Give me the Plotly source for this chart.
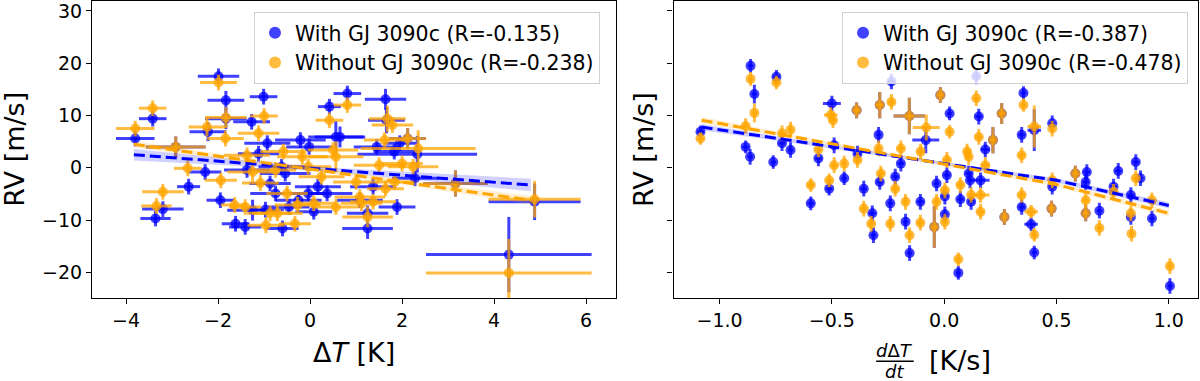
import plotly.graph_objects as go

# ---------------- Left panel: RV vs Delta T ----------------
dT_with = [-3.80, -3.42, -3.36, -3.20, -2.92, -2.64, -2.28, -2.22, -1.99, -1.95, -1.83, -1.83, -1.62, -1.41,
           -1.27, -1.37, -1.25, -1.12, -1.01, -0.97, -0.93, -0.87, -0.75, -0.62, -0.60, -0.54, -0.46, -0.25,
           -0.21, -0.02, -0.04, 0.08, 0.17, 0.37, 0.42, 0.56, 0.65, 0.81, 1.08, 1.25, 1.25, 1.37, 1.45, 1.64,
           1.66, 1.83, 1.89, 1.95, 2.12, 2.33, 2.28, 3.16, 4.88, 4.32]
rv_with_L = [5.6, 9.4, -9.7, -7.9, 4.0, -3.6, -0.8, 6.9, 17.5, -6.2, 12.9, 9.4, -10.7, -11.3,
             8.8, -0.4, -8.1, 2.7, 13.6, -8.0, 4.7, -3.0, -4.9, 0.2, -11.6, -1.1, -7.5, -6.2,
             5.3, 4.0, -4.9, -8.4, -3.6, -4.9, 11.7, 5.9, 5.9, 14.2, -6.2, -11.6, -8.7, -3.6, 4.0, 13.1,
             9.1, 3.1, -7.5, 4.7, 5.6, 2.6, -2.0, -3.0, -6.5, -16.6]
dTerr_with = [0.42, 0.30, 0.33, 0.45, 0.65, 0.25, 0.35, 0.40, 0.45, 0.30, 0.40, 0.45, 0.30, 0.35,
              0.40, 0.50, 0.55, 0.45, 0.30, 0.40, 0.50, 0.45, 0.55, 0.50, 0.35, 0.55, 0.45, 0.50,
              0.55, 0.50, 0.45, 0.40, 0.50, 0.55, 0.25, 0.60, 0.55, 0.30, 0.50, 0.55, 0.45, 0.50, 0.50, 0.45,
              0.40, 0.45, 0.40, 0.35, 0.40, 1.30, 0.50, 0.70, 1.00, 1.80]
rverr_with_L = [1.5, 1.5, 1.5, 1.5, 2.0, 1.5, 1.5, 1.8, 1.5, 1.5, 1.8, 2.0, 1.5, 1.5,
                1.5, 1.5, 2.0, 1.5, 1.5, 1.5, 1.5, 1.5, 1.5, 1.5, 1.5, 1.5, 1.5, 1.5,
                1.5, 1.5, 1.5, 1.5, 1.5, 1.5, 1.5, 3.0, 2.0, 1.5, 1.5, 2.0, 1.5, 1.5, 1.5, 2.0,
                2.5, 1.5, 1.5, 1.5, 2.0, 3.5, 1.5, 2.5, 3.5, 7.2]

dT_without = [-3.80, -3.42, -3.20, -3.34, -2.92, -2.66, -2.24, -1.99, -1.94, -1.84, -1.83, -1.64, -1.41,
              -1.37, -1.25, -1.12, -1.08, -1.00, -0.96, -0.87, -0.75, -0.71, -0.58, -0.50, -0.33, -0.27,
              -0.17, -0.04, 0.08, 0.25, 0.42, 0.50, 0.56, 0.56, 0.81, 1.00, 1.08, 1.12, 1.25, 1.37, 1.50,
              1.62, 1.64, 1.68, 1.79, 1.84, 2.00, 2.12, 2.24, 2.35, 3.16, 4.88, 4.32]
rv_without_L = [7.5, 11.4, -4.6, -7.3, 4.0, -0.1, 7.8, 16.3, -2.4, 5.6, 9.6, -7.1, -7.5,
                2.4, -0.8, 6.6, -2.9, 9.9, -11.0, -8.7, -0.4, -8.7, 3.1, -4.9, -10.7, -7.1,
                2.1, 0.2, -6.8, -1.7, 9.1, 3.4, 2.1, -7.5, 12.0, -2.7, -5.6, -6.8, -9.4, -6.5, 0.5,
                5.3, -4.0, 9.4, 8.2, -2.7, 0.8, 5.6, 0.2, 3.7, -3.0, -6.0, -20.1]
dTerr_without = [0.42, 0.30, 0.45, 0.33, 0.65, 0.30, 0.40, 0.40, 0.35, 0.40, 0.45, 0.30, 0.35,
                 0.50, 0.55, 0.45, 0.40, 0.30, 0.40, 0.50, 0.45, 0.55, 0.50, 0.45, 0.35, 0.50,
                 0.55, 0.50, 0.45, 0.50, 0.30, 0.55, 0.60, 0.50, 0.30, 0.50, 0.55, 0.45, 0.55, 0.50, 0.55,
                 0.45, 0.40, 0.40, 0.45, 0.40, 0.45, 0.40, 0.55, 1.25, 0.70, 1.00, 1.80]
rverr_without_L = [1.5, 1.5, 1.5, 1.5, 2.0, 1.5, 1.8, 1.5, 1.5, 1.5, 2.0, 1.5, 1.5,
                   1.5, 2.0, 1.5, 1.5, 1.5, 1.5, 1.5, 1.5, 1.5, 1.5, 1.5, 1.5, 1.5,
                   1.5, 1.5, 1.5, 1.5, 1.5, 1.5, 3.0, 1.5, 1.5, 1.5, 1.5, 1.5, 2.0, 1.5, 1.5,
                   1.5, 1.5, 2.5, 1.5, 1.5, 1.5, 2.0, 1.5, 3.5, 2.5, 3.5, 6.5]

# regression lines and confidence bands
fitL_x = [-3.83, -1.0, 0.5, 2.0, 4.80]
fitL_with = [2.5, 0.6, -0.4, -1.4, -3.3]
fitL_with_lo = [1.4, 0.1, -0.8, -2.1, -4.5]
fitL_with_hi = [3.6, 1.1, 0.0, -0.7, -2.1]
fitL_without = [4.5, 1.0, -0.8, -2.7, -6.2]
fitL_without_lo = [3.9, 0.6, -1.2, -3.2, -7.0]
fitL_without_hi = [5.1, 1.4, -0.4, -2.2, -5.4]

# ---------------- Right panel: RV vs d(Delta T)/dt ----------------
dTdt_with = [-1.085, -0.862, -0.845, -0.884, -0.864, -0.761, -0.747, -0.722, -0.684, -0.594, -0.560, -0.512,
             -0.500, -0.490, -0.445, -0.390, -0.386, -0.358, -0.320, -0.315, -0.292, -0.287, -0.287, -0.235,
             -0.240, -0.218, -0.193, -0.172, -0.155, -0.154, -0.106, -0.082, -0.044, -0.034, -0.017, 0.003,
             0.003, 0.012, 0.024, 0.063, 0.072, 0.109, 0.115, 0.120, 0.143, 0.154, 0.162, 0.183, 0.217,
             0.256, 0.268, 0.345, 0.353, 0.345, 0.387, 0.401, 0.401, 0.481, 0.481, 0.478, 0.584, 0.635,
             0.630, 0.630, 0.691, 0.754, 0.775, 0.831, 0.831, 0.853, 0.874, 0.925, 1.005]
rv_with_R = [6.9, 19.5, 14.1, 4.0, 2.1, 1.1, 17.4, 4.7, 3.4, -6.8, 1.8, -4.0,
             12.3, 4.3, -2.0, 11.0, 2.7, -4.0, -8.7, -12.9, 6.3, 12.0, -2.7, 16.5,
             -6.8, -1.7, 0.8, -10.3, 9.9, -16.3, -6.5, 5.3, -11.3, -3.0, 13.9, -5.5,
             -8.9, -1.4, 10.4, -20.1, -6.0, -1.1, -2.4, -6.5, 17.5, 9.8, -2.4, 3.5, 5.3,
             10.4, -9.4, 6.3, 14.3, -7.5, -10.8, -16.2, 7.2, 8.5, -3.6, -7.8, -1.1, -0.8,
             -2.7, -8.7, -8.2, -3.6, -0.6, -5.2, -9.4, 1.1, -2.0, -9.7, -22.6]
dTdterr_with = [0.015, 0.012, 0.012, 0.015, 0.012, 0.012, 0.015, 0.015, 0.012, 0.015, 0.015, 0.015,
                0.040, 0.015, 0.012, 0.015, 0.015, 0.015, 0.015, 0.012, 0.012, 0.020, 0.015, 0.015,
                0.012, 0.015, 0.015, 0.012, 0.070, 0.012, 0.015, 0.060, 0.015, 0.012, 0.015, 0.015,
                0.012, 0.015, 0.012, 0.012, 0.015, 0.015, 0.012, 0.015, 0.012, 0.015, 0.040, 0.020, 0.015,
                0.015, 0.012, 0.015, 0.012, 0.015, 0.030, 0.012, 0.030, 0.012, 0.015, 0.012, 0.015, 0.015,
                0.015, 0.012, 0.012, 0.015, 0.015, 0.015, 0.012, 0.015, 0.012, 0.012, 0.012]
rverr_with_R = [1.2, 1.3, 1.8, 1.2, 1.5, 1.3, 1.3, 1.5, 1.5, 1.3, 1.5, 1.3,
                1.5, 1.5, 1.3, 1.5, 1.5, 1.5, 1.5, 1.5, 1.5, 2.5, 1.5, 1.5,
                1.5, 1.5, 1.5, 1.5, 3.5, 1.5, 1.5, 2.5, 4.0, 1.5, 1.5, 1.5,
                1.5, 1.5, 1.3, 1.3, 1.5, 1.5, 1.5, 1.5, 1.5, 1.5, 1.5, 1.5, 2.5,
                2.0, 1.5, 1.5, 1.3, 1.5, 1.3, 1.3, 4.0, 1.5, 1.5, 1.5, 1.5, 1.5,
                1.5, 1.5, 1.5, 1.5, 1.5, 1.5, 1.5, 1.5, 1.5, 1.5, 1.5]

dTdt_without = [-1.085, -0.862, -0.845, -0.884, -0.747, -0.722, -0.684, -0.594, -0.560, -0.512, -0.505,
                -0.495, -0.490, -0.445, -0.390, -0.386, -0.358, -0.325, -0.292, -0.287, -0.282, -0.240,
                -0.235, -0.218, -0.193, -0.172, -0.155, -0.154, -0.106, -0.080, -0.105, -0.044, -0.034,
                -0.017, 0.003, 0.003, 0.012, 0.024, 0.063, 0.072, 0.102, 0.109, 0.120, 0.143, 0.154, 0.162,
                0.162, 0.183, 0.217, 0.256, 0.268, 0.345, 0.353, 0.345, 0.387, 0.401, 0.401, 0.481, 0.481,
                0.478, 0.584, 0.630, 0.630, 0.691, 0.754, 0.831, 0.834, 0.853, 0.925, 1.005]
rv_without_R = [5.6, 17.0, 10.5, 8.0, 16.3, 6.6, 7.3, -3.3, 3.5, -2.4, 10.1,
                9.1, 0.5, 0.8, 11.0, 1.5, -7.8, -10.7, 3.7, 12.0, -1.1, -10.7,
                12.6, -4.0, 3.7, -6.5, 9.9, -12.9, -10.5, 7.7, 3.1, -11.3, -6.5,
                13.9, -4.3, -10.3, 1.5, 6.9, -17.5, -3.3, 3.1, 2.1, -5.2, 13.3, 5.9, -5.2,
                -8.4, 0.5, 5.3, 10.4, -9.4, 2.4, 12.0, -5.2, -8.4, -12.8, 7.9, 7.5, -2.4,
                -7.8, -1.1, -6.2, -8.7, -11.5, -4.6, -8.7, -12.6, -2.0, -6.2, -18.8]
dTdterr_without = [0.015, 0.012, 0.012, 0.015, 0.015, 0.015, 0.012, 0.015, 0.015, 0.015, 0.030,
                   0.015, 0.015, 0.012, 0.015, 0.015, 0.015, 0.015, 0.012, 0.020, 0.015, 0.012,
                   0.015, 0.015, 0.015, 0.012, 0.070, 0.012, 0.015, 0.060, 0.015, 0.015, 0.012,
                   0.015, 0.015, 0.012, 0.015, 0.012, 0.012, 0.015, 0.015, 0.015, 0.015, 0.012, 0.015, 0.040,
                   0.015, 0.020, 0.015, 0.015, 0.012, 0.015, 0.012, 0.015, 0.030, 0.012, 0.030, 0.012, 0.015,
                   0.012, 0.015, 0.015, 0.012, 0.012, 0.015, 0.015, 0.012, 0.015, 0.012, 0.012]
rverr_without_R = [1.2, 1.3, 1.8, 1.5, 1.3, 1.5, 1.5, 1.3, 1.5, 1.3, 1.5,
                   1.5, 1.5, 1.5, 1.5, 1.5, 1.5, 1.5, 1.5, 2.5, 1.5, 1.5,
                   1.5, 1.5, 1.5, 1.5, 3.5, 1.5, 1.5, 2.5, 1.5, 4.0, 1.5,
                   1.5, 1.5, 1.5, 1.5, 1.3, 1.3, 1.5, 1.5, 1.5, 1.5, 1.5, 1.5, 1.5,
                   1.5, 1.5, 2.5, 2.0, 1.5, 1.5, 1.3, 1.5, 1.3, 1.3, 4.0, 1.5, 1.5,
                   1.5, 1.5, 1.5, 1.5, 1.5, 1.5, 1.5, 1.5, 1.5, 1.5, 1.5]

fitR_x = [-1.08, -0.5, 0.0, 0.5, 1.0]
fitR_with = [7.8, 4.0, 0.8, -2.4, -7.2]
fitR_with_lo = [7.2, 3.7, 0.5, -2.8, -7.8]
fitR_with_hi = [8.4, 4.3, 1.1, -2.0, -6.6]
fitR_without = [9.1, 4.6, 0.7, -3.2, -8.7]
fitR_without_lo = [8.5, 4.3, 0.4, -3.6, -9.3]
fitR_without_hi = [9.7, 4.9, 1.0, -2.8, -8.1]

labels_left = ["With GJ 3090c (R=-0.135)", "Without GJ 3090c (R=-0.238)"]
labels_right = ["With GJ 3090c (R=-0.387)", "Without GJ 3090c (R=-0.478)"]

BLUE = "rgba(0,0,255,0.75)"
ORANGE = "rgba(255,165,0,0.75)"
BLUE_BAND = "rgba(0,0,255,0.18)"
ORANGE_BAND = "rgba(255,165,0,0.18)"
FONT = "DejaVu Sans"

fig = go.Figure()


def add_points(x, y, xe, ye, color, name, xa, ya, legend, group):
    fig.add_trace(go.Scatter(
        x=x, y=y, mode="markers", name=name, xaxis=xa, yaxis=ya, legend=legend, legendgroup=group,
        marker=dict(color=color, size=10, line=dict(width=0)),
        error_x=dict(type="data", array=xe, visible=True, color=color, thickness=3, width=0),
        error_y=dict(type="data", array=ye, visible=True, color=color, thickness=3, width=0),
    ))


def add_fit(x, y, lo, hi, color, band, xa, ya):
    fig.add_trace(go.Scatter(x=x, y=lo, mode="lines", line=dict(width=0), xaxis=xa, yaxis=ya,
                             showlegend=False, hoverinfo="skip"))
    fig.add_trace(go.Scatter(x=x, y=hi, mode="lines", line=dict(width=0), fill="tonexty",
                             fillcolor=band, xaxis=xa, yaxis=ya, showlegend=False, hoverinfo="skip"))
    fig.add_trace(go.Scatter(x=x, y=y, mode="lines", xaxis=xa, yaxis=ya, showlegend=False,
                             line=dict(color=color, width=3, dash="11px,5px"), hoverinfo="skip"))


# left panel
add_points(dT_with, rv_with_L, dTerr_with, rverr_with_L, BLUE, labels_left[0], "x", "y", "legend", "a")
add_points(dT_without, rv_without_L, dTerr_without, rverr_without_L, ORANGE, labels_left[1], "x", "y", "legend", "b")
add_fit(fitL_x, fitL_with, fitL_with_lo, fitL_with_hi, "blue", BLUE_BAND, "x", "y")
add_fit(fitL_x, fitL_without, fitL_without_lo, fitL_without_hi, "orange", ORANGE_BAND, "x", "y")

# right panel
add_points(dTdt_with, rv_with_R, dTdterr_with, rverr_with_R, BLUE, labels_right[0], "x2", "y2", "legend2", "c")
add_points(dTdt_without, rv_without_R, dTdterr_without, rverr_without_R, ORANGE, labels_right[1], "x2", "y2", "legend2", "d")
add_fit(fitR_x, fitR_with, fitR_with_lo, fitR_with_hi, "blue", BLUE_BAND, "x2", "y2")
add_fit(fitR_x, fitR_without, fitR_without_lo, fitR_without_hi, "orange", ORANGE_BAND, "x2", "y2")

axis_common = dict(showline=True, linecolor="black", linewidth=1.2, mirror=True, ticks="outside",
                   ticklen=5, tickwidth=1.2, tickcolor="black", showgrid=False, zeroline=False,
                   ticklabeloverflow="allow",
                   tickfont=dict(family=FONT, size=19, color="black"))

legend_common = dict(yanchor="top", xanchor="right", bgcolor="rgba(255,255,255,0.8)",
                     bordercolor="#d0d0d0", borderwidth=1, traceorder="normal", tracegroupgap=3,
                     itemsizing="constant",
                     font=dict(family=FONT, size=20.5, color="black"))

fig.update_layout(
    width=1200, height=381,
    margin=dict(l=92, r=2, t=1, b=83),
    paper_bgcolor="white", plot_bgcolor="white",
    font=dict(family=FONT, color="black"),
    xaxis=dict(domain=[0, 0.4738], range=[-4.74, 6.65], tickvals=[-4, -2, 0, 2, 4, 6], **axis_common),
    xaxis2=dict(domain=[0.5258, 1], range=[-1.205, 1.13], tickvals=[-1.0, -0.5, 0.0, 0.5, 1.0],
                tickformat=".1f", **axis_common),
    yaxis=dict(range=[-24.9, 31.9], tickvals=[-20, -10, 0, 10, 20, 30], **axis_common),
    yaxis2=dict(range=[-24.9, 31.9], tickvals=[-20, -10, 0, 10, 20, 30], anchor="x2",
                showticklabels=False, **axis_common),
    legend=dict(x=0.4593, y=0.963, **legend_common),
    legend2=dict(x=0.991, y=0.963, **legend_common),
    showlegend=True,
)

ann = [
    dict(text="RV [m/s]", x=-0.0701, y=0.501, textangle=-90, font=dict(size=27)),
    dict(text="RV [m/s]", x=0.498, y=0.501, textangle=-90, font=dict(size=27)),
    dict(text="Δ<i>T</i> [K]", x=0.237, y=-0.183, font=dict(size=27)),
    dict(text="<i>d</i>Δ<i>T</i>", x=0.726, y=-0.178, font=dict(size=18)),
    dict(text="<i>dt</i>", x=0.726, y=-0.248, font=dict(size=18)),
    dict(text="[K/s]", x=0.785, y=-0.21, font=dict(size=27)),
]
for a in ann:
    fig.add_annotation(xref="paper", yref="paper", showarrow=False, xanchor="center", yanchor="middle",
                       font_family=FONT, font_color="black", **a)

fig.add_shape(type="line", xref="paper", yref="paper", x0=0.709, x1=0.743, y0=-0.213, y1=-0.213,
              line=dict(color="black", width=1.3))

fig.write_html("out.html", config={"displayModeBar": False},
               post_script="document.body.style.margin='0';document.body.style.overflow='hidden';")
